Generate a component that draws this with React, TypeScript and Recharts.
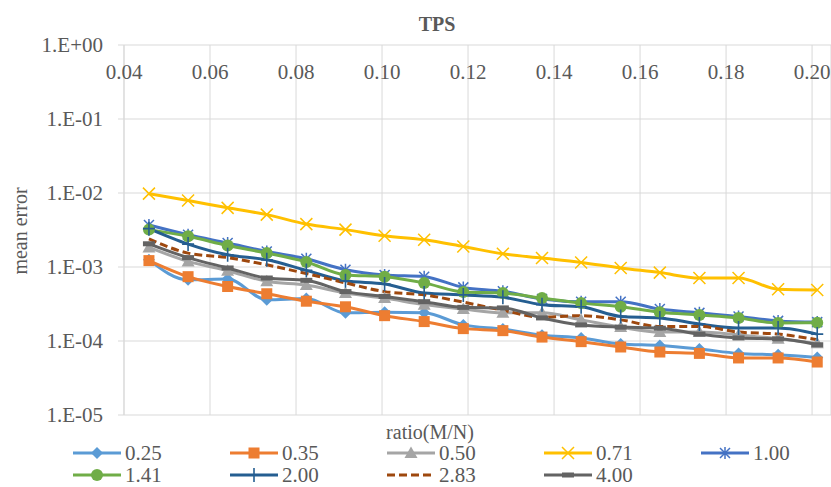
import React from "react";
import { LineChart, Line, XAxis, YAxis, CartesianGrid } from "recharts";

// x positions (M/N)
const ratios = [
  0.0458, 0.0549, 0.0641, 0.0732, 0.0824, 0.0915, 0.1006, 0.1098, 0.1189,
  0.1281, 0.1372, 0.1463, 0.1555, 0.1646, 0.1738, 0.1829, 0.1921, 0.2012,
];

// mean error per curve
const err025 = [1.25e-3, 6.7e-4, 6.9e-4, 3.6e-4, 3.75e-4, 2.4e-4, 2.45e-4, 2.4e-4, 1.65e-4, 1.45e-4, 1.2e-4, 1.1e-4, 9.1e-5, 8.7e-5, 7.8e-5, 6.8e-5, 6.5e-5, 6.0e-5];
const err035 = [1.22e-3, 7.4e-4, 5.45e-4, 4.35e-4, 3.45e-4, 2.9e-4, 2.2e-4, 1.83e-4, 1.47e-4, 1.38e-4, 1.13e-4, 9.8e-5, 8.3e-5, 7.1e-5, 6.8e-5, 5.9e-5, 5.9e-5, 5.2e-5];
const err050 = [1.84e-3, 1.19e-3, 8.9e-4, 6.4e-4, 5.7e-4, 4.45e-4, 3.8e-4, 3.1e-4, 2.7e-4, 2.4e-4, 2.4e-4, 1.93e-4, 1.54e-4, 1.32e-4, 1.32e-4, 1.21e-4, 1.07e-4, 9.3e-5];
const err071 = [9.8e-3, 7.9e-3, 6.3e-3, 5.1e-3, 3.8e-3, 3.2e-3, 2.64e-3, 2.33e-3, 1.89e-3, 1.51e-3, 1.32e-3, 1.15e-3, 9.7e-4, 8.4e-4, 7.1e-4, 7.1e-4, 5.0e-4, 4.9e-4];
const err100 = [3.7e-3, 2.73e-3, 2.11e-3, 1.62e-3, 1.29e-3, 9.2e-4, 7.8e-4, 7.4e-4, 5.3e-4, 4.7e-4, 3.7e-4, 3.4e-4, 3.4e-4, 2.7e-4, 2.4e-4, 2.14e-4, 1.87e-4, 1.8e-4];
const err141 = [3.2e-3, 2.6e-3, 1.95e-3, 1.54e-3, 1.17e-3, 7.8e-4, 7.4e-4, 6.1e-4, 4.6e-4, 4.45e-4, 3.8e-4, 3.25e-4, 2.9e-4, 2.45e-4, 2.25e-4, 2.05e-4, 1.75e-4, 1.77e-4];
const err200 = [3.3e-3, 2.04e-3, 1.46e-3, 1.25e-3, 9.0e-4, 6.5e-4, 5.9e-4, 4.45e-4, 4.2e-4, 3.9e-4, 3.1e-4, 2.9e-4, 2.15e-4, 2.05e-4, 1.7e-4, 1.5e-4, 1.5e-4, 1.24e-4];
const err283 = [2.4e-3, 1.54e-3, 1.34e-3, 1.07e-3, 8.15e-4, 6.1e-4, 4.65e-4, 4.2e-4, 3.35e-4, 2.6e-4, 2.1e-4, 2.2e-4, 1.93e-4, 1.57e-4, 1.57e-4, 1.32e-4, 1.24e-4, 1.04e-4];
const err400 = [2.06e-3, 1.34e-3, 9.7e-4, 7.1e-4, 6.6e-4, 4.65e-4, 4.0e-4, 3.4e-4, 2.85e-4, 2.8e-4, 2.05e-4, 1.65e-4, 1.54e-4, 1.49e-4, 1.24e-4, 1.1e-4, 1.07e-4, 8.9e-5];

const xTicks = [0.04, 0.06, 0.08, 0.1, 0.12, 0.14, 0.16, 0.18, 0.2];
const yTicks = [1e-5, 1e-4, 1e-3, 1e-2, 1e-1, 1];

const series = [
  { key: "s025", name: "0.25", values: err025, color: "#5B9BD5", marker: "diamond" },
  { key: "s035", name: "0.35", values: err035, color: "#ED7D31", marker: "square" },
  { key: "s050", name: "0.50", values: err050, color: "#A5A5A5", marker: "triangle" },
  { key: "s071", name: "0.71", values: err071, color: "#FFC000", marker: "x" },
  { key: "s100", name: "1.00", values: err100, color: "#4472C4", marker: "star" },
  { key: "s141", name: "1.41", values: err141, color: "#70AD47", marker: "circle" },
  { key: "s200", name: "2.00", values: err200, color: "#255E91", marker: "plus" },
  { key: "s283", name: "2.83", values: err283, color: "#9E480E", marker: "none", dash: "8 4" },
  { key: "s400", name: "4.00", values: err400, color: "#636363", marker: "dash" },
];

const rows = ratios.map((r, i) => {
  const row: Record<string, number> = { ratio: r };
  series.forEach((s) => (row[s.key] = s.values[i]));
  return row;
});

const FONT = '"Liberation Serif", "Times New Roman", serif';
const TEXT = "#595959";
const GRID = "#d9d9d9";
const W = 831;
const H = 487;
const TOP = 45;
const BOTTOM = 72;
const XAXIS_H = 20;

function Marker({ kind, cx, cy, color }: { kind: string; cx: number; cy: number; color: string }) {
  switch (kind) {
    case "diamond":
      return <path d={`M${cx},${cy - 6}L${cx + 6},${cy}L${cx},${cy + 6}L${cx - 6},${cy}Z`} fill={color} />;
    case "square":
      return <rect x={cx - 5.5} y={cy - 5.5} width={11} height={11} fill={color} />;
    case "triangle":
      return <path d={`M${cx},${cy - 6.5}L${cx + 6.5},${cy + 5}L${cx - 6.5},${cy + 5}Z`} fill={color} />;
    case "x":
      return (
        <path d={`M${cx - 6},${cy - 6}L${cx + 6},${cy + 6}M${cx + 6},${cy - 6}L${cx - 6},${cy + 6}`}
          stroke={color} strokeWidth={1.5} fill="none" />
      );
    case "star":
      return (
        <path d={`M${cx - 5},${cy - 5}L${cx + 5},${cy + 5}M${cx + 5},${cy - 5}L${cx - 5},${cy + 5}M${cx},${cy - 6}L${cx},${cy + 6}`}
          stroke={color} strokeWidth={1.5} fill="none" />
      );
    case "circle":
      return <circle cx={cx} cy={cy} r={6} fill={color} />;
    case "plus":
      return (
        <path d={`M${cx},${cy - 7}L${cx},${cy + 7}M${cx - 6},${cy}L${cx + 6},${cy}`}
          stroke={color} strokeWidth={1.6} fill="none" />
      );
    case "dash":
      return <rect x={cx - 6} y={cy - 2.5} width={12} height={5} fill={color} />;
    default:
      return null;
  }
}

function expLabel(v: number) {
  const e = Math.round(Math.log10(v));
  const sign = e < 0 ? "-" : "+";
  return `1.E${sign}${String(Math.abs(e)).padStart(2, "0")}`;
}

// x labels sit just under the top gridline, inside the plot
const renderXTick = (p: any) => (
  <text key={`xt-${p.index}`} x={p.x} y={TOP + 34} textAnchor="middle" fontFamily={FONT} fontSize={21} fill={TEXT}>
    {Number(p.payload.value).toFixed(2)}
  </text>
);

function LegendBlock() {
  const colX = [73, 230, 387, 544, 701];
  const rowY = [453, 475];
  return (
    <g>
      {series.map((s, i) => {
        const x = colX[i % 5];
        const y = rowY[Math.floor(i / 5)];
        return (
          <g key={s.key}>
            <line x1={x} x2={x + 48} y1={y} y2={y} stroke={s.color} strokeWidth={3} strokeDasharray={s.dash} />
            <Marker kind={s.marker} cx={x + 24} cy={y} color={s.color} />
            <text x={x + 52} y={y + 7} fontFamily={FONT} fontSize={21} fill={TEXT}>{s.name}</text>
          </g>
        );
      })}
    </g>
  );
}

export default function App() {
  return (
    <div style={{ position: "absolute", left: 0, top: 0, width: W, height: H, background: "#fff" }}>
      <LineChart width={W} height={H} data={rows} margin={{ top: TOP - XAXIS_H, right: 0, bottom: BOTTOM, left: 0 }}>
        <CartesianGrid stroke={GRID} strokeWidth={1} />
        <XAxis
          dataKey="ratio"
          type="number"
          orientation="top"
          domain={[0.04, 0.2044]}
          ticks={xTicks}
          interval={0}
          height={XAXIS_H}
          axisLine={false}
          tickLine={false}
          tick={renderXTick}
          allowDataOverflow
        />
        <YAxis
          type="number"
          scale="log"
          domain={[1e-5, 1]}
          ticks={yTicks}
          width={124}
          allowDataOverflow
          axisLine={{ stroke: GRID }}
          tickLine={{ stroke: GRID }}
          tickSize={6}
          tickMargin={15}
          tickFormatter={expLabel}
          tick={{ fontFamily: FONT, fontSize: 21, fill: TEXT }}
        />
        {series.map((s) => (
          <Line
            key={s.key}
            dataKey={s.key}
            name={s.name}
            type="monotone"
            stroke={s.color}
            strokeWidth={3}
            strokeDasharray={s.dash}
            isAnimationActive={false}
            dot={
              s.marker === "none"
                ? false
                : (p: any) => <Marker key={`${s.key}-${p.index}`} kind={s.marker} cx={p.cx} cy={p.cy} color={s.color} />
            }
            activeDot={false}
          />
        ))}
      </LineChart>
      <svg width={W} height={H} style={{ position: "absolute", left: 0, top: 0, pointerEvents: "none" }}>
        <text x={437} y={31} textAnchor="middle" fontFamily={FONT} fontSize={20} fontWeight="bold" fill={TEXT}>TPS</text>
        <text x={20} y={231} transform="rotate(-90 20 231)" textAnchor="middle" dominantBaseline="central"
          fontFamily={FONT} fontSize={20} fill={TEXT}>mean error</text>
        <text x={430} y={439} textAnchor="middle" fontFamily={FONT} fontSize={20} fill={TEXT}>ratio(M/N)</text>
        <LegendBlock />
      </svg>
    </div>
  );
}
